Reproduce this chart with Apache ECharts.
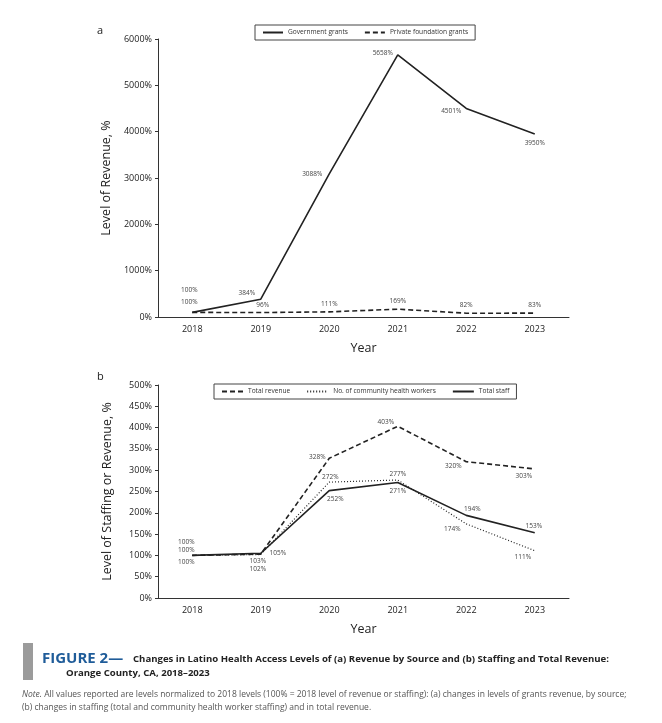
<!DOCTYPE html>
<html><head><meta charset="utf-8">
<script src="https://cdn.jsdelivr.net/npm/echarts@6/dist/echarts.min.js"></script>
<style>html,body{margin:0;padding:0;background:#fff}#c{width:662px;height:723px}</style>
</head><body><div id="c"></div>
<script>
const years = ['2018','2019','2020','2021','2022','2023'];
const govGrants = [100, 384, 3088, 5658, 4501, 3950];
const privGrants = [100, 96, 111, 169, 82, 83];
const totalRevenue = [100, 103, 328, 403, 320, 303];
const chwStaff = [100, 102, 272, 277, 174, 111];
const totalStaff = [100, 105, 252, 271, 194, 153];

// label offsets (style only)
const offGov = [[-3,-22],[-14,-6],[-17,0],[-15,-2],[-15,3],[0,9]];
const offPriv = [[-3,-10],[2,-7],[0,-8],[0,-8],[0,-8],[0,-8]];
const offRev = [[-6,-13],[-3,7],[-12,-1],[-12,-4],[-13,4],[-11,7]];
const offChw = [[-6,-5],[-3,15],[1,-5],[0,-6],[-14,5],[-12,6]];
const offStaff = [[-6,7],[17,0],[6,8],[0,9],[6,-6],[-1,-7]];

const FONT = '"Open Sans", "Noto Sans", sans-serif';
const INK = '#222';

function mk(vals, offs) {
  return vals.map((v, i) => ({ value: v, label: { offset: offs[i] } }));
}
function series(name, vals, offs, dash, idx, w) {
  return {
    name, type: 'line', xAxisIndex: idx, yAxisIndex: idx,
    data: mk(vals, offs),
    symbol: 'circle', symbolSize: 0.1,
    itemStyle: { color: INK },
    lineStyle: { color: INK, width: w, type: dash },
    label: { show: true, position: 'inside', formatter: p => p.value + '%',
      fontSize: 6.5, color: '#444', fontFamily: FONT },
    emphasis: { disabled: true }, animation: false
  };
}
function xAxis(gi) {
  return {
    gridIndex: gi, type: 'category', data: years, boundaryGap: true,
    axisLine: { lineStyle: { color: '#333', width: 1 } },
    axisTick: { alignWithLabel: true, length: 3, lineStyle: { color: '#333' } },
    axisLabel: { fontSize: 9, color: INK, fontFamily: FONT, margin: 8 },
    name: 'Year', nameLocation: 'middle', nameGap: 25,
    nameTextStyle: { fontSize: 12.5, color: INK, fontFamily: FONT }
  };
}
function yAxis(gi, max, interval, name) {
  return {
    gridIndex: gi, type: 'value', min: 0, max, interval,
    axisLine: { show: true, lineStyle: { color: '#333', width: 1 } },
    axisTick: { show: true, length: 3, lineStyle: { color: '#333' } },
    splitLine: { show: false },
    axisLabel: { fontSize: 9, color: INK, fontFamily: FONT, margin: 6, formatter: v => v + '%' },
    name, nameLocation: 'middle', nameGap: 44,
    nameTextStyle: { fontSize: 12.5, color: INK, fontFamily: FONT }
  };
}
function legend(data, left, top, gap, iw, fs) {
  return {
    data, left, top, orient: 'horizontal', itemWidth: iw, itemHeight: 8, itemGap: gap,
    borderColor: '#444', borderWidth: 1, padding: [4, 7, 4, 7],
    itemStyle: { opacity: 0 },
    textStyle: { fontSize: fs, color: '#333', fontFamily: FONT }
  };
}

const chart = echarts.init(document.getElementById('c'), null, { renderer: 'canvas' });
chart.setOption({
  backgroundColor: '#fff',
  animation: false,
  grid: [
    { left: 158, right: 93, top: 39, bottom: 406 },
    { left: 158, right: 93, top: 385, bottom: 125 }
  ],
  xAxis: [xAxis(0), xAxis(1)],
  yAxis: [yAxis(0, 6000, 1000, 'Level of Revenue, %'), yAxis(1, 500, 50, 'Level of Staffing or Revenue, %')],
  legend: [
    legend(['Government grants', 'Private foundation grants'], 255, 25, 16, 20, 6.6),
    legend(['Total revenue', 'No. of community health workers', 'Total staff'], 214, 384, 16, 21, 6.6)
  ],
  series: [
    series('Government grants', govGrants, offGov, 'solid', 0, 1.6),
    series('Private foundation grants', privGrants, offPriv, [5, 3], 0, 1.6),
    series('Total revenue', totalRevenue, offRev, [5, 3], 1, 1.6),
    series('No. of community health workers', chwStaff, offChw, [1, 2], 1, 1.2),
    series('Total staff', totalStaff, offStaff, 'solid', 1, 1.6)
  ],
  graphic: [
    { type: 'text', left: 97, top: 25, style: { text: 'a', fontSize: 11, fill: INK, fontFamily: FONT } },
    { type: 'text', left: 97, top: 371, style: { text: 'b', fontSize: 11, fill: INK, fontFamily: FONT } },
    { type: 'rect', shape: { x: 23, y: 643, width: 10, height: 37 }, style: { fill: '#9b9b9b' } },
    { type: 'text', x: 42, y: 659, style: { text: 'FIGURE 2\u2014', fontSize: 15, fontWeight: 'bold', fill: '#1f5c99', fontFamily: FONT, verticalAlign: 'middle' } },
    { type: 'text', x: 133, y: 659, style: { text: 'Changes in Latino Health Access Levels of (a) Revenue by Source and (b) Staffing and Total Revenue:', fontSize: 9.6, fontWeight: 'bold', fill: '#222', fontFamily: FONT, verticalAlign: 'middle' } },
    { type: 'text', x: 66, y: 673, style: { text: 'Orange County, CA, 2018\u20132023', fontSize: 9.6, fontWeight: 'bold', fill: '#222', fontFamily: FONT, verticalAlign: 'middle' } },
    { type: 'text', x: 22, y: 695, style: { text: '{i|Note.} All values reported are levels normalized to 2018 levels (100% = 2018 level of revenue or staffing): (a) changes in levels of grants revenue, by source;', fontSize: 8.5, fill: '#555', fontFamily: FONT, verticalAlign: 'middle', rich: { i: { fontStyle: 'italic', fontSize: 8.5, fill: '#555', fontFamily: FONT } } } },
    { type: 'text', x: 22, y: 708, style: { text: '(b) changes in staffing (total and community health worker staffing) and in total revenue.', fontSize: 8.5, fill: '#555', fontFamily: FONT, verticalAlign: 'middle' } }
  ]
});
</script></body></html>
